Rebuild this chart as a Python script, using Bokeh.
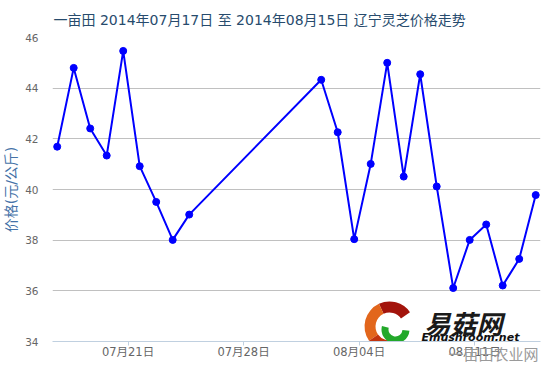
import pandas as pd
from bokeh.plotting import figure
from bokeh.models import Range1d, FixedTicker, DatetimeTickFormatter, Label, Title
from bokeh.embed import file_html
from bokeh.resources import INLINE

# ---- data ----
dates = ["2014-07-17", "2014-07-18", "2014-07-19", "2014-07-20", "2014-07-21",
         "2014-07-22", "2014-07-23", "2014-07-24", "2014-07-25",
         "2014-08-02", "2014-08-03", "2014-08-04", "2014-08-05", "2014-08-06",
         "2014-08-07", "2014-08-08", "2014-08-09", "2014-08-10", "2014-08-11",
         "2014-08-12", "2014-08-13", "2014-08-14", "2014-08-15"]
prices = [41.69, 44.80, 42.41, 41.34, 45.47, 40.92, 39.51, 38.01, 39.01,
          44.33, 42.26, 38.04, 41.01, 45.00, 40.51, 44.55, 40.12, 36.11,
          38.01, 38.62, 36.21, 37.26, 39.78]
x_tick_dates = ["2014-07-21", "2014-07-28", "2014-08-04", "2014-08-11"]
y_ticks = [34, 36, 38, 40, 42, 44, 46]
title_text = "一亩田 2014年07月17日 至 2014年08月15日 辽宁灵芝价格走势"
y_title = "价格(元/公斤)"

DAY = 86400000.0
HOUR = 3600000.0
xs = [pd.Timestamp(d).value / 1e6 for d in dates]
base = xs[0]
x_start = base - 0.285 * DAY
x_end = base + 29.29 * DAY

FONT = "'DejaVu Sans', 'Noto Sans CJK SC', sans-serif"

p = figure(width=550, height=367, x_axis_type="datetime",
           output_backend="svg", toolbar_location=None,
           x_range=Range1d(x_start, x_end), y_range=Range1d(34, 46),
           min_border_left=52, min_border_right=10,
           min_border_top=37, min_border_bottom=26)
p.outline_line_color = None
p.background_fill_color = "white"
p.border_fill_color = "white"

p.title.text = title_text
p.title.align = "left"
p.title.vertical_align = "top"
p.title.offset = 1
p.title.standoff = 16
p.title.text_font = FONT
p.title.text_font_size = "14px"
p.title.text_font_style = "normal"
p.title.text_color = "#274b6d"

# grid
p.xgrid.grid_line_color = None
p.ygrid.grid_line_color = "#C0C0C0"
p.ygrid.grid_line_width = 1

# y axis
p.yaxis.ticker = FixedTicker(ticks=y_ticks)
p.yaxis.axis_line_color = None
p.yaxis.major_tick_line_color = None
p.yaxis.minor_tick_line_color = None
p.yaxis.major_label_text_font = FONT
p.yaxis.major_label_text_font_size = "10.5px"
p.yaxis.major_label_text_color = "#666666"
p.yaxis.major_label_standoff = 8
p.yaxis.axis_label = y_title
p.yaxis.axis_label_text_font = FONT
p.yaxis.axis_label_text_font_size = "14px"
p.yaxis.axis_label_text_font_style = "normal"
p.yaxis.axis_label_text_color = "#4572A7"
p.yaxis.axis_label_standoff = 3

# x axis
x_ticks = [pd.Timestamp(d).value / 1e6 + 7 * HOUR for d in x_tick_dates]
p.xaxis.ticker = FixedTicker(ticks=x_ticks)
p.xaxis.formatter = DatetimeTickFormatter(days="%m月%d日", months="%m月%d日",
                                          hours="%m月%d日")
p.xaxis.axis_line_color = "#C0D0E0"
p.xaxis.major_tick_line_color = "#C0D0E0"
p.xaxis.major_tick_in = 0
p.xaxis.major_tick_out = 4
p.xaxis.minor_tick_line_color = None
p.xaxis.major_label_standoff = -1
p.xaxis.major_label_text_font = FONT
p.xaxis.major_label_text_font_size = "11.5px"
p.xaxis.major_label_text_color = "#666666"

# series
p.line(xs, prices, line_color="#0000FF", line_width=2)
p.scatter(xs, prices, size=7, fill_color="#0000FF", line_color="#0000FF")

# ---- watermark (positioned in pixels of the frame) ----
FL, FT, FW, FH = 52.0, 37.0, 488.0, 304.0
def px_x(px):
    return x_start + (px - FL) / FW * (x_end - x_start)
def px_y(py):
    return 46 - (py - FT) / FH * 12

cx, cy = px_x(389), px_y(326)
for a0, a1, col in [(35, 115, "#a3140c"), (115, 215, "#e2661c"), (215, 290, "#c2340e")]:
    p.annular_wedge(x=cx, y=cy, inner_radius=14, outer_radius=25,
                    inner_radius_units="screen", outer_radius_units="screen",
                    start_angle=a0, end_angle=a1, start_angle_units="deg",
                    end_angle_units="deg", fill_color=col, line_color=None)
p.annular_wedge(x=px_x(395), y=px_y(329), inner_radius=7, outer_radius=14,
                inner_radius_units="screen", outer_radius_units="screen",
                start_angle=165, end_angle=355, start_angle_units="deg",
                end_angle_units="deg", fill_color="#22a82a", line_color=None)

p.add_layout(Label(x=px_x(424), y=px_y(322), text="易菇网", text_font="'Noto Sans CJK SC'",
                   text_font_size="26px", text_font_style="bold italic",
                   text_color="#1a1a1a", text_baseline="middle", text_align="left"))
p.add_layout(Label(x=px_x(421), y=px_y(337), text="Emushroom.net", text_font="'DejaVu Sans'",
                   text_font_size="11px", text_font_style="bold italic",
                   text_color="#111111", text_baseline="middle", text_align="left"))
p.add_layout(Title(text="一亩田农业网", align="right", vertical_align="top",
                   offset=2, standoff=-37,
                   text_font="'Noto Sans CJK SC'", text_font_size="15px",
                   text_font_style="normal", text_color="#9a9a9a"), "below")

open("out.html", "w").write(file_html(p, INLINE))
